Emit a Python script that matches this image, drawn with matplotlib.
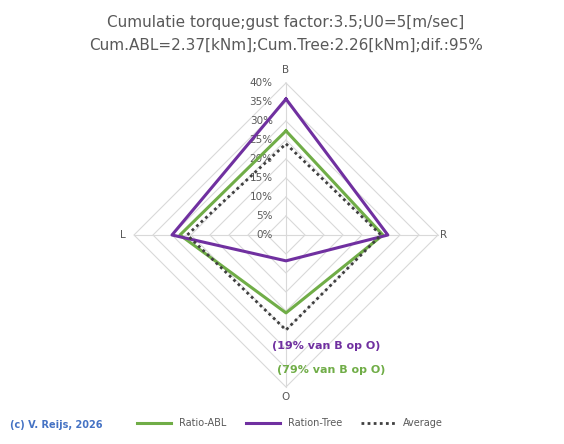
import matplotlib
matplotlib.use("Agg")
import matplotlib.pyplot as plt
from matplotlib.lines import Line2D

# axis order: B (top), R (right), O (bottom), L (left)
axis_names = ["B", "R", "O", "L"]
ratio_abl = [27.4, 25.5, 20.5, 27.9]
ratio_tree = [35.8, 26.8, 6.8, 30.0]
average = [24.0, 25.0, 25.0, 26.0]
ticks = [0, 5, 10, 15, 20, 25, 30, 35, 40]

dirs = [(0, 1), (1, 0), (0, -1), (-1, 0)]


def to_xy(vals):
    xs = [d[0] * v for d, v in zip(dirs, vals)]
    ys = [d[1] * v for d, v in zip(dirs, vals)]
    return xs + xs[:1], ys + ys[:1]


fig = plt.figure(figsize=(5.64, 4.44), dpi=100)
ax = fig.add_axes([115 / 564, 38 / 444, 342 / 564, 342 / 444])
ax.set_xlim(-45, 45)
ax.set_ylim(-45, 45)
ax.axis("off")

grid_c = "#d9d9d9"
for t in ticks[1:]:
    gx, gy = to_xy([t] * 4)
    ax.plot(gx, gy, color=grid_c, lw=0.8, zorder=1)
for d in dirs:
    ax.plot([0, d[0] * 40], [0, d[1] * 40], color=grid_c, lw=0.8, zorder=1)

for t in ticks:
    ax.text(-3.5, t, "%d%%" % t, ha="right", va="center", fontsize=7.5, color="#595959")

ax.text(0, 43.5, "B", ha="center", va="center", fontsize=7.5, color="#595959")
ax.text(41.5, 0, "R", ha="center", va="center", fontsize=7.5, color="#595959")
ax.text(0, -42.7, "O", ha="center", va="center", fontsize=7.5, color="#595959")
ax.text(-43, 0, "L", ha="center", va="center", fontsize=7.5, color="#595959")

green = "#70ad47"
purple = "#7030a0"
x, y = to_xy(ratio_abl)
ax.plot(x, y, color=green, lw=2.2, zorder=3)
x, y = to_xy(ratio_tree)
ax.plot(x, y, color=purple, lw=2.2, zorder=4)
x, y = to_xy(average)
ax.plot(x, y, color="#404040", lw=2, ls=(0, (1, 1.2)), zorder=5)

fig.text(286 / 564, 1 - 22 / 444, "Cumulatie torque;gust factor:3.5;U0=5[m/sec]",
         ha="center", va="center", fontsize=11, color="#595959")
fig.text(286 / 564, 1 - 45 / 444, "Cum.ABL=2.37[kNm];Cum.Tree:2.26[kNm];dif.:95%",
         ha="center", va="center", fontsize=11, color="#595959")

fig.text(326 / 564, 1 - 346 / 444, "(19% van B op O)", ha="center", va="center",
         fontsize=8, color=purple, fontweight="bold")
fig.text(331 / 564, 1 - 370 / 444, "(79% van B op O)", ha="center", va="center",
         fontsize=8, color=green, fontweight="bold")
fig.text(10 / 564, 1 - 425 / 444, "(c) V. Reijs, 2026", ha="left", va="center",
         fontsize=7, color="#4472c4", fontweight="bold")

handles = [Line2D([], [], color=green, lw=2.2),
           Line2D([], [], color=purple, lw=2.2),
           Line2D([], [], color="#404040", lw=2, ls=(0, (1, 1.2)))]
fig.legend(handles, ["Ratio-ABL", "Ration-Tree", "Average"], loc="center",
           bbox_to_anchor=(290 / 564, 1 - 423 / 444), ncol=3, frameon=False,
           fontsize=7, handlelength=3.5, columnspacing=2, labelcolor="#595959")

fig.savefig("out.png", dpi=100)
